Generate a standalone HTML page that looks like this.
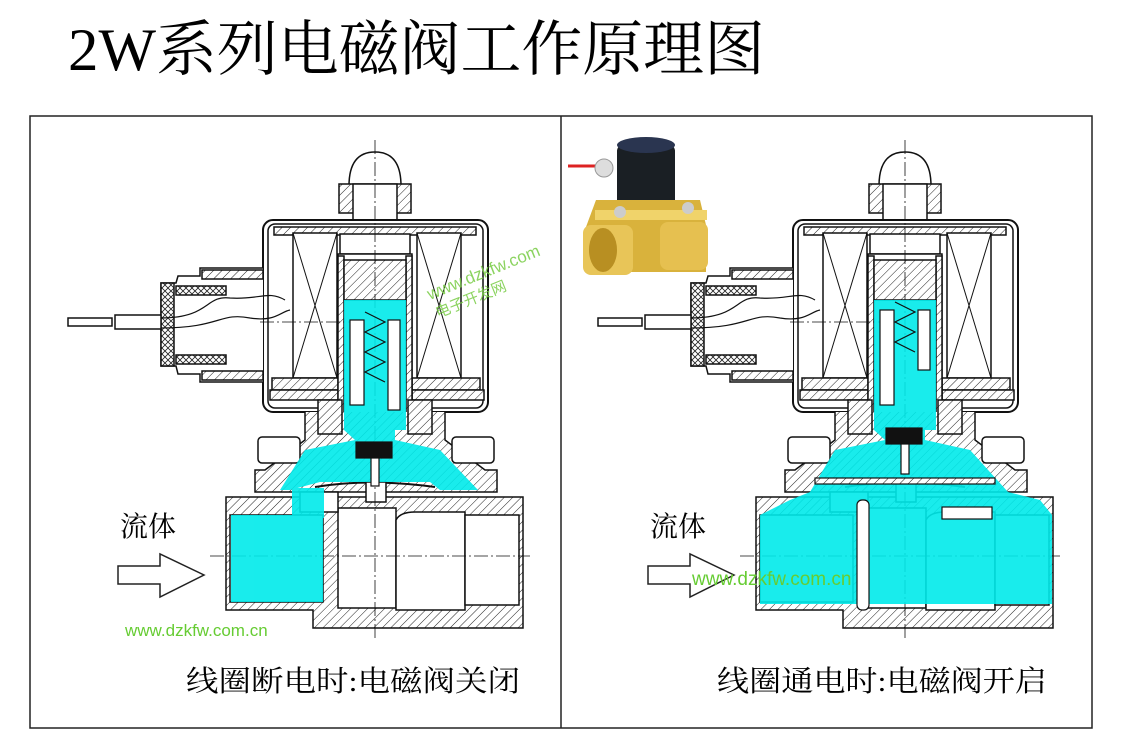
<!DOCTYPE html>
<html><head><meta charset="utf-8"><style>
html,body{margin:0;padding:0;background:#fff;}
svg{display:block;}
text{font-family:"Liberation Serif","Noto Serif CJK SC",serif;}
.s{font-family:"Liberation Sans","Noto Sans CJK SC",sans-serif;}
</style></head><body>
<svg width="1122" height="737" viewBox="0 0 1122 737" xmlns="http://www.w3.org/2000/svg">
<defs>
<pattern id="h" width="6" height="6" patternUnits="userSpaceOnUse" patternTransform="rotate(45)"><rect width="6" height="6" fill="#fff"/><line x1="0" y1="0" x2="0" y2="6" stroke="#222" stroke-width="1"/></pattern>
<pattern id="hl" width="7" height="7" patternUnits="userSpaceOnUse" patternTransform="rotate(45)"><line x1="0" y1="0" x2="0" y2="7" stroke="#bbb" stroke-width="1"/></pattern>
<pattern id="x" width="6" height="6" patternUnits="userSpaceOnUse"><rect width="6" height="6" fill="#fff"/><path d="M0,0L6,6M6,0L0,6" stroke="#222" stroke-width="0.8"/></pattern>
<g id="valve" fill="none" stroke="#111" stroke-width="1.5">
  <!-- dome -->
  <path d="M349,186 Q349,152 375,152 Q401,152 401,186" fill="#fff"/>
  <rect x="339" y="184" width="72" height="29" fill="url(#h)"/>
  <rect x="353" y="184" width="44" height="50" fill="#fff"/>
  <!-- housing -->
  <rect x="263" y="220" width="225" height="192" rx="10" fill="#fff" stroke-width="2"/>
  <rect x="268" y="224" width="215" height="184" rx="7"/>
  <rect x="274" y="227" width="202" height="8" fill="url(#h)"/>
  <!-- coils -->
  <rect x="293" y="233" width="44" height="145" fill="#fff"/>
  <path d="M293,233L337,378M337,233L293,378" stroke-width="1"/>
  <rect x="417" y="233" width="44" height="145" fill="#fff"/>
  <path d="M417,233L461,378M461,233L417,378" stroke-width="1"/>
  <rect x="272" y="378" width="68" height="12" fill="url(#h)"/>
  <rect x="412" y="378" width="68" height="12" fill="url(#h)"/>
  <rect x="270" y="390" width="70" height="10" fill="url(#h)"/>
  <rect x="412" y="390" width="72" height="10" fill="url(#h)"/>
  <!-- tube -->
  <rect x="340" y="234" width="70" height="20" fill="#fff"/>
  <rect x="338" y="254" width="74" height="185" fill="#fff"/>
  <rect x="338" y="256" width="6" height="180" fill="url(#h)"/>
  <rect x="406" y="256" width="6" height="180" fill="url(#h)"/>
  <rect x="344" y="260" width="62" height="40" fill="url(#h)"/>
  <!-- connector -->
  <path d="M263,268 L200,268 L200,276 L178,276 L176,283 L161,283 L161,366 L176,366 L178,374 L200,374 L200,382 L263,382" fill="#fff"/>
  <rect x="161" y="283" width="13" height="83" fill="url(#x)"/>
  <rect x="176" y="286" width="50" height="9" fill="url(#x)"/>
  <rect x="176" y="355" width="50" height="9" fill="url(#x)"/>
  <rect x="202" y="270" width="61" height="9" fill="url(#h)"/>
  <rect x="202" y="371" width="61" height="9" fill="url(#h)"/>
  <rect x="68" y="318" width="44" height="8" fill="#fff"/>
  <rect x="115" y="315" width="46" height="14" fill="#fff"/>
  <path d="M161,318 C210,318 205,295 230,298 C260,300 268,290 285,300 M161,328 C220,328 220,312 250,318 C275,322 280,312 290,310" stroke-width="1.2"/>
  <!-- bonnet -->
  <path d="M305,412 L305,440 L265,470 L255,470 L255,492 L497,492 L497,470 L485,470 L445,440 L445,412" fill="url(#h)"/>
  <rect x="258" y="437" width="42" height="26" rx="4" fill="#fff"/>
  <rect x="452" y="437" width="42" height="26" rx="4" fill="#fff"/>
  <rect x="318" y="400" width="24" height="34" fill="url(#h)"/>
  <rect x="408" y="400" width="24" height="34" fill="url(#h)"/>
  <!-- lower body -->
  <path d="M226,497 L523,497 L523,628 L313,628 L313,610 L226,610 Z" fill="url(#h)"/>
  <rect x="230" y="515" width="93" height="87" fill="#fff"/>
  <rect x="338" y="508" width="58" height="100" fill="#fff"/>
  <path d="M396,520 Q400,512 415,512 L465,512 L465,610 L396,610 Z" fill="#fff"/>
  <rect x="465" y="515" width="54" height="90" fill="#fff"/>
  <rect x="300" y="492" width="38" height="20" fill="#fff"/>
  <!-- diaphragm & plunger -->
  <path d="M315,487 Q370,478 435,487" stroke-width="2"/>
  <rect x="366" y="482" width="20" height="20" fill="#fff"/>
  <!-- centerlines -->
  <path d="M375,140 L375,640 M210,556 L530,556 M260,322 L360,322" stroke-width="0.8" stroke-dasharray="14,3,2,3"/>
</g>
</defs>

<text x="68" y="70" font-size="60" textLength="697" lengthAdjust="spacingAndGlyphs">2W系列电磁阀工作原理图</text>

<rect x="30" y="116" width="1062" height="612" fill="none" stroke="#222" stroke-width="1.5"/>
<line x1="561" y1="116" x2="561" y2="728" stroke="#222" stroke-width="1.5"/>

<!-- LEFT VALVE -->
<use href="#valve"/>
<g fill="#00eaea" stroke="none" opacity="0.9">
  <polygon points="344,300 406,300 406,430 395,430 395,440 440,450 478,490 440,490 430,482 320,482 290,490 280,490 305,450 355,440 344,430"/>
  <rect x="231" y="515" width="92" height="87"/>
  <rect x="292" y="488" width="32" height="30"/>
</g>
<g fill="#fff" stroke="#111" stroke-width="1.2">
  <rect x="350" y="320" width="14" height="85"/>
  <rect x="388" y="320" width="12" height="90"/>
  <path d="M365,312 L385,322 L365,332 L385,342 L365,352 L385,362 L365,372 L385,382" fill="none"/>
  <rect x="356" y="442" width="36" height="16" fill="#111"/>
  <rect x="371" y="458" width="8" height="28"/>
</g>

<!-- RIGHT VALVE -->
<use href="#valve" transform="translate(530,0)"/>
<g fill="#00eaea" stroke="none" opacity="0.9">
  <polygon points="874,300 936,300 936,430 925,430 925,440 970,450 1008,492 1040,500 1052,515 1052,604 760,604 760,515 790,500 810,492 835,450 885,440 874,430"/>
</g>
<g fill="#fff" stroke="#111" stroke-width="1.2">
  <rect x="880" y="310" width="14" height="95"/>
  <rect x="918" y="310" width="12" height="60"/>
  <path d="M895,302 L915,312 L895,322 L915,332 L895,342 L915,352" fill="none"/>
  <rect x="886" y="428" width="36" height="16" fill="#111"/>
  <rect x="901" y="444" width="8" height="30"/>
  <rect x="815" y="478" width="180" height="6" fill="url(#h)"/>
  <rect x="857" y="500" width="12" height="110" rx="5" fill="#fff"/>
  <rect x="942" y="507" width="50" height="12" fill="#fff"/>
</g>

<!-- product photo -->
<g>
  <path d="M568,166 L600,166" stroke="#d22" stroke-width="3"/>
  <circle cx="604" cy="168" r="9" fill="#ddd" stroke="#999"/>
  <rect x="617" y="145" width="58" height="62" rx="6" fill="#1a1f24"/>
  <ellipse cx="646" cy="145" rx="29" ry="8" fill="#2a3550"/>
  <path d="M596,200 L700,200 L706,225 L706,272 L585,272 L583,235 Z" fill="#d9b23c"/>
  <rect x="583" y="225" width="50" height="50" rx="8" fill="#e8c558"/>
  <rect x="660" y="222" width="48" height="48" rx="8" fill="#e6c050"/>
  <ellipse cx="603" cy="250" rx="14" ry="22" fill="#b88f22"/>
  <rect x="595" y="210" width="112" height="10" fill="#f0d36a"/>
  <circle cx="620" cy="212" r="6" fill="#ccc"/><circle cx="688" cy="208" r="6" fill="#ccc"/>
</g>
<text class="s" x="430" y="300" font-size="17" fill="#7c4" opacity="0.85" transform="rotate(-22 430 300)">www.dzkfw.com</text>
<text class="s" x="438" y="318" font-size="15" fill="#7c4" opacity="0.85" transform="rotate(-22 438 318)">电子开发网</text>

<!-- flow labels & arrows -->
<text x="120" y="536" font-size="28">流体</text>
<text x="650" y="536" font-size="28">流体</text>
<path d="M118,566 L160,566 L160,554 L204,575 L160,597 L160,584 L118,584 Z" fill="#fff" stroke="#222" stroke-width="1.5"/>
<path d="M648,566 L690,566 L690,554 L734,575 L690,597 L690,584 L648,584 Z" fill="#fff" stroke="#222" stroke-width="1.5"/>
<text class="s" x="125" y="636" font-size="17" fill="#6c3">www.dzkfw.com.cn</text>
<text class="s" x="692" y="585" font-size="19" fill="#6c3">www.dzkfw.com.cn</text>

<text x="186" y="691" font-size="29" textLength="334" lengthAdjust="spacingAndGlyphs">线圈断电时:电磁阀关闭</text>
<text x="717" y="691" font-size="29" textLength="330" lengthAdjust="spacingAndGlyphs">线圈通电时:电磁阀开启</text>
</svg>
</body></html>
